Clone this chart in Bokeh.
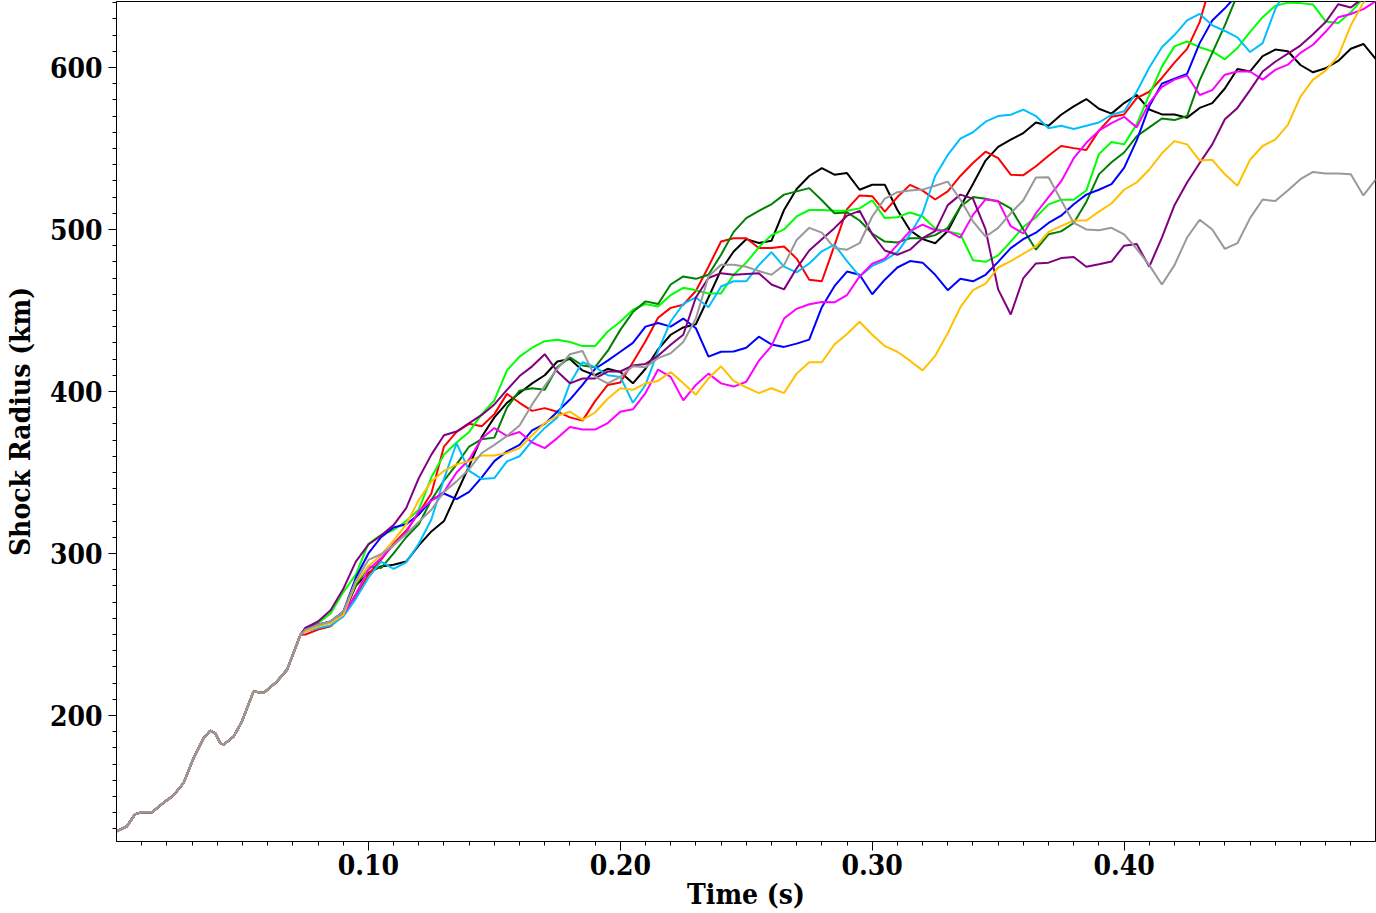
from bokeh.plotting import figure
from bokeh.models import FixedTicker, NumeralTickFormatter, Range1d
from bokeh.embed import file_html
from bokeh.resources import INLINE

# Shared early part of all runs (time in s, radius in km)
T_TRUNK = [0.0, 0.0041, 0.0074, 0.0101, 0.0141, 0.0194, 0.0226, 0.0266, 0.0306, 0.0346,
           0.0372, 0.0392, 0.0412, 0.0425, 0.0465, 0.0498, 0.0544, 0.0584, 0.0637, 0.0677, 0.0730]
R_TRUNK = [128.4, 131.5, 139.1, 140.3, 140.3, 147.0, 150.6, 158.2, 173.7, 186.0,
           190.6, 189.0, 182.9, 181.9, 187.0, 196.3, 214.8, 213.8, 221.0, 228.2, 249.8]

# Sampling times for the individual runs
T_GRID = [0.075, 0.080, 0.085, 0.090, 0.095, 0.100, 0.105, 0.110, 0.115, 0.120,
          0.125, 0.130, 0.135, 0.140, 0.145, 0.150, 0.155, 0.160, 0.165, 0.170,
          0.175, 0.180, 0.185, 0.190, 0.195, 0.200, 0.205, 0.210, 0.215, 0.220,
          0.225, 0.230, 0.235, 0.240, 0.245, 0.250, 0.255, 0.260, 0.265, 0.270,
          0.275, 0.280, 0.285, 0.290, 0.295, 0.300, 0.305, 0.310, 0.315, 0.320,
          0.325, 0.330, 0.335, 0.340, 0.345, 0.350, 0.355, 0.360, 0.365, 0.370,
          0.375, 0.380, 0.385, 0.390, 0.395, 0.400, 0.405, 0.410, 0.415, 0.420,
          0.425, 0.430, 0.435, 0.440, 0.445, 0.450, 0.455, 0.460, 0.465, 0.470,
          0.475, 0.480, 0.485, 0.490, 0.495, 0.500]

R_BLACK = [253, 255.5, 257.5, 262, 280, 288, 292, 293, 295, 305,
           313.6, 320, 337, 354, 372, 384, 393, 399, 405, 410,
           418.5, 420, 413, 410, 414, 412, 405, 414, 426, 435,
           439.5, 441.5, 458, 475, 486.4, 494, 491.6, 493, 512, 525,
           533, 537.8, 533.8, 534.8, 524.5, 527.6, 527.6, 512, 499.5, 494,
           491.5, 499, 514, 528, 542.5, 551, 555.5, 559.5, 566, 564,
           570.8, 576, 580.5, 574.5, 571.5, 578, 583, 574, 571, 571,
           569, 575, 578, 587, 599, 597.5, 607, 611, 610, 601.5,
           597, 599.5, 604, 611.5, 614.5, 605]

R_RED = [250, 253, 255, 262, 273, 287, 296, 306, 314, 325,
         337, 366, 375, 380, 378.5, 386, 398.5, 393, 388, 389.7,
         387.5, 384, 382, 394, 404, 405.5, 418, 431, 445.5, 451.6,
         453.5, 462, 477, 492.6, 494.6, 494.6, 488.5, 488.5, 489.5, 482,
         469, 468, 490, 512.5, 521, 520.5, 511, 520, 527.5, 524,
         518.5, 523.5, 533, 541, 548, 544, 533.8, 533.5, 539, 545.5,
         551.5, 550.2, 549, 561, 569.5, 571, 581, 585, 593.5, 603,
         611.5, 628, 655]

R_LIME = [254, 257, 263, 276, 287, 306, 311.5, 314.5, 320, 327,
          347, 361, 368.5, 375, 386, 394.5, 413, 421.5, 427, 431,
          431.9, 430.5, 428, 428, 437, 443, 450.5, 454, 452.5, 459.5,
          464, 462.5, 460.5, 460.5, 472, 479.5, 489, 496.5, 500, 508,
          512, 512, 511.5, 511.5, 513, 518, 507, 507.5, 510.5, 508,
          500.5, 498.8, 497, 481, 480, 484, 492.5, 501.5, 507.5, 515.5,
          518.3, 518.3, 524, 546.5, 554, 552.5, 565, 583, 600.5, 613,
          616, 612.5, 609.9, 605, 612, 622, 631, 638, 640, 639.7,
          638.8, 628.4, 627.4, 634, 643, 648]

R_DKGREEN = [253, 256, 258, 264, 280, 292, 291, 300, 310, 318,
             333, 345, 355, 366, 370.5, 371.5, 390, 400.5, 402, 401,
             415, 421, 416, 415, 425, 438, 449, 455.6, 454, 466,
             471, 469.5, 472, 484.4, 498.5, 507, 511.5, 515.5, 521.5, 523.5,
             525.5, 518, 510, 510.5, 505.5, 497.5, 492.5, 492, 494.6, 494.6,
             496.5, 501, 514, 520, 519, 517.3, 513, 500, 487.5, 497,
             498.8, 504, 517, 534, 541.5, 547.5, 557.5, 563, 568.5, 567.5,
             570, 592, 609, 626, 645, 660]

R_BLUE = [254, 256, 258, 264, 285, 300, 310, 316, 318, 324,
          333, 337, 333.5, 338, 347, 357, 363, 367, 376, 380,
          387.5, 395, 404, 414, 419, 424.5, 430, 440, 442.2, 440,
          445, 439, 421.5, 424.5, 424.7, 427, 433.8, 429, 427.5, 429.5,
          432, 452, 465, 474, 472, 460, 469, 476.5, 480.5, 479.5,
          472, 462.5, 469.5, 468, 472, 480, 488.5, 494, 498, 504,
          508.5, 515.5, 521.5, 524.5, 528, 538, 555, 576, 590, 593,
          596, 615, 629, 636.5, 645, 660]

R_CYAN = [252, 254, 255.5, 261, 272, 285, 295, 290.5, 294.5, 306,
          321, 346, 368, 351, 346, 346.5, 356.8, 360, 369.5, 377.5,
          384, 405, 418, 415, 410, 409, 393, 404, 425, 443.2,
          454, 458, 452, 464.8, 468, 468, 478, 486, 477, 473.5,
          479, 486.5, 490.6, 480.5, 471, 477.5, 481, 486, 497, 510,
          533, 546, 556, 560, 566.5, 570, 570.8, 574, 570, 562.5,
          564, 562, 564, 566, 570.8, 573, 585, 600, 612.5, 620,
          629, 633, 626, 622.5, 618.5, 609.5, 615, 636, 650, 665]

R_MAGENTA = [252, 256, 258, 262, 275, 290, 297, 305.4, 313, 326,
             332.5, 338, 350, 358, 371, 377.4, 372.5, 375, 368.5, 365,
             371.2, 378, 376.5, 376.5, 380.5, 387.5, 389, 399, 413.5, 409,
             394.5, 404, 411, 405, 403, 406, 419, 428, 445, 451,
             453.8, 455.2, 455, 459.5, 471, 478.8, 482, 490.5, 499, 503,
             499.5, 499, 495, 509, 518.5, 517.5, 502, 497.5, 510, 520,
             529.6, 544, 553.5, 561, 565.6, 569.5, 563, 578, 588, 592.5,
             595, 583, 586, 595.5, 597.5, 597.5, 592.5, 598.5, 601.7, 609,
             614, 622, 631, 633, 636, 641]

R_PURPLE = [254, 258, 265, 278, 295, 305.5, 311, 317.5, 328, 346.5,
            361, 373, 375.3, 380.5, 385.5, 392, 401, 409.5, 415.5, 423,
            412.3, 405, 408, 408, 412.3, 412.3, 416, 417, 422, 428.8,
            435, 458, 470, 473, 472, 472.5, 473, 466, 463, 476,
            487, 494, 500.8, 508.5, 511.5, 497, 487, 484.4, 487.5, 494.6,
            499, 515, 521.5, 519, 500, 463, 447.5, 470, 479, 479.5,
            482.3, 483, 477, 478.5, 480.2, 490, 491, 477, 495, 515,
            529, 541, 552.5, 568, 575, 586, 597.5, 603.5, 608.5, 613.5,
            620.5, 628, 639, 637, 643, 648]

R_GOLD = [252, 255, 257, 262, 282, 292, 299, 308, 318, 333,
          344.5, 351, 355, 357, 360.5, 360.5, 362, 365, 373, 380.5,
          385, 387.5, 382.5, 387, 395.5, 402, 401, 405, 406.5, 412,
          405, 398, 408, 415.5, 406.5, 402.5, 399, 402, 399, 411,
          418, 418, 429, 435.5, 443, 435, 428, 424.5, 419, 413,
          422, 436, 452, 462.5, 466.5, 476.5, 480.5, 485, 489.5, 498.5,
          502, 505.5, 505.5, 511, 516, 524.5, 529, 537, 547, 554.5,
          552.5, 542.5, 543, 534, 527, 543, 551.5, 555.5, 564.5, 582,
          592.5, 598, 607, 626, 640, 650]

R_GRAY = [253, 256, 258, 264, 283, 296, 299.5, 305, 312, 319.5,
          327, 338, 344.5, 352, 362, 367, 372.5, 379, 392, 403.5,
          414, 423, 425, 409, 405, 409, 415.5, 415, 420.6, 423.6,
          430.5, 445, 471, 478.2, 478.2, 477, 474.3, 472, 478, 493.5,
          501, 498, 488.5, 487.5, 491.5, 508, 519, 523, 524, 524.6,
          527, 529.5, 518.5, 505, 495.5, 501, 510, 518, 532, 532.2,
          518, 504, 500, 499.5, 501, 497, 488, 478, 466, 478,
          495, 506, 500, 488, 491.5, 507, 518.5, 517.5, 524, 531,
          535.5, 534.5, 534.5, 534, 521, 531]

SERIES = [
    (R_BLACK, "#000000"),
    (R_RED, "#FF0000"),
    (R_LIME, "#00FF00"),
    (R_DKGREEN, "#008000"),
    (R_BLUE, "#0000FF"),
    (R_CYAN, "#00BFFF"),
    (R_MAGENTA, "#FF00FF"),
    (R_PURPLE, "#800080"),
    (R_GOLD, "#FFC000"),
    (R_GRAY, "#999999"),
]

FONT = "DejaVu Serif Condensed"

p = figure(width=1376, height=913,
           x_range=Range1d(0.0, 0.4998), y_range=Range1d(122.2, 640.7),
           output_backend="svg", toolbar_location=None,
           min_border_left=100, min_border_right=1, min_border_top=1, min_border_bottom=60)

for r_vals, color in SERIES:
    n = len(r_vals)
    xs = T_TRUNK + T_GRID[:n]
    ys = R_TRUNK + list(r_vals)
    p.line(xs, ys, line_color=color, line_width=2)

p.grid.visible = False
p.outline_line_color = "black"
p.outline_line_width = 1
p.background_fill_color = "white"
p.border_fill_color = "white"

p.xaxis.ticker = FixedTicker(ticks=[0.1, 0.2, 0.3, 0.4],
                             minor_ticks=[i / 100 for i in range(1, 50)])
p.yaxis.ticker = FixedTicker(ticks=[200, 300, 400, 500, 600],
                             minor_ticks=list(range(130, 641, 10)))
p.xaxis.formatter = NumeralTickFormatter(format="0.00")
p.xaxis.axis_label = "Time (s)"
p.yaxis.axis_label = "Shock Radius (km)"

for ax in (p.xaxis[0], p.yaxis[0]):
    ax.axis_line_color = "black"
    ax.axis_line_width = 1
    ax.major_tick_in = 0
    ax.minor_tick_in = 0
    ax.minor_tick_out = 4
    ax.major_tick_line_color = "black"
    ax.minor_tick_line_color = "black"
    ax.major_label_text_font = FONT
    ax.major_label_text_font_style = "bold"
    ax.major_label_text_font_size = "28px"
    ax.major_label_text_color = "black"
    ax.axis_label_text_font = FONT
    ax.axis_label_text_font_style = "bold"
    ax.axis_label_text_font_size = "28px"
    ax.axis_label_text_color = "black"

p.xaxis.major_tick_out = 9
p.yaxis.major_tick_out = 8
p.xaxis.major_label_standoff = 3
p.yaxis.major_label_standoff = 6
p.xaxis.axis_label_standoff = 0
p.yaxis.axis_label_standoff = 10

open("out.html", "w").write(file_html(p, INLINE))
